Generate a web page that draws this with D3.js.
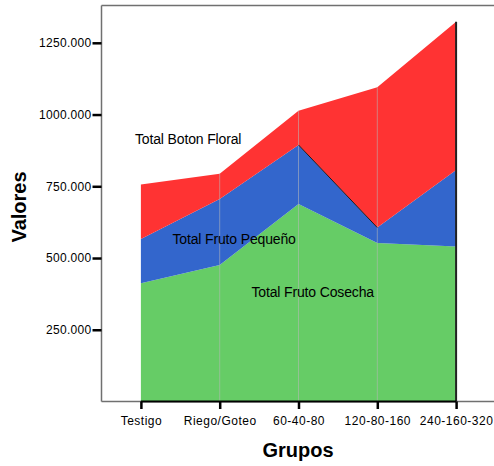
<!DOCTYPE html>
<html>
<head>
<meta charset="utf-8">
<script src="https://cdn.jsdelivr.net/npm/d3@7"></script>
<style>
  html, body { margin: 0; padding: 0; background: #fff; }
  svg { display: block; font-family: "Liberation Sans", Arial, sans-serif; }
</style>
</head>
<body>
<svg id="chart" width="494" height="466"></svg>
<script>
// Groups along the x axis
const grupos = ["Testigo", "Riego/Goteo", "60-40-80", "120-80-160", "240-160-320"];
// Series values (stacked from bottom to top)
const frutoCosecha = [412, 476, 688, 552, 540];
const frutoPequeno = [154, 230, 206, 54, 267];
const botonFloral  = [190, 88, 119, 489, 516];
// Series names, used for the stack keys and in-plot labels
const seriesNames = ["Total Fruto Cosecha", "Total Fruto Pequeño", "Total Boton Floral"];
// Y tick values
const yTicks = [250, 500, 750, 1000, 1250];

const colors = ["#66cc66", "#3366cc", "#ff3333"];

const rows = grupos.map((g, i) => ({
  grupo: g,
  [seriesNames[0]]: frutoCosecha[i],
  [seriesNames[1]]: frutoPequeno[i],
  [seriesNames[2]]: botonFloral[i]
}));

const svg = d3.select("#chart");
const plotLeft = 101.5, plotRight = 495.5, plotTop = 5.5, plotBottom = 401.5;

const x = d3.scalePoint().domain(grupos).range([plotLeft, plotRight]).padding(0.5);
const y = d3.scaleLinear().domain([0, 1380]).range([plotBottom, plotTop]);

const stacked = d3.stack().keys(seriesNames)(rows);

const area = d3.area()
  .x(d => x(d.data.grupo))
  .y0(d => y(d[0]))
  .y1(d => y(d[1]));

// Frame: left axis line, top border, bottom border
svg.append("line").attr("x1", plotLeft).attr("x2", plotLeft).attr("y1", plotTop).attr("y2", plotBottom)
  .attr("stroke", "#707070").attr("stroke-width", 1.5);
svg.append("line").attr("x1", plotLeft).attr("x2", 494).attr("y1", plotTop).attr("y2", plotTop)
  .attr("stroke", "#707070").attr("stroke-width", 1.5);
svg.append("line").attr("x1", plotLeft).attr("x2", 494).attr("y1", plotBottom).attr("y2", plotBottom)
  .attr("stroke", "#707070").attr("stroke-width", 1.5);

// Stacked areas
svg.append("g").selectAll("path")
  .data(stacked)
  .join("path")
  .attr("d", area)
  .attr("fill", (d, i) => colors[i]);

// Thin category lines through the areas
const totals = rows.map(r => seriesNames.reduce((s, k) => s + r[k], 0));
svg.append("g").selectAll("line")
  .data(grupos.slice(1, -1))
  .join("line")
  .attr("x1", d => x(d)).attr("x2", d => x(d))
  .attr("y1", y(0))
  .attr("y2", d => y(totals[grupos.indexOf(d)]))
  .attr("stroke", "rgba(185,185,185,0.55)")
  .attr("stroke-width", 1);

// Dark edge on the boundary between the middle and top series
svg.append("path")
  .datum(stacked[1])
  .attr("d", d3.line()
    .defined((d, i) => i >= 2 && i <= 3)
    .x(d => x(d.data.grupo))
    .y(d => y(d[1])))
  .attr("fill", "none")
  .attr("stroke", "#1a1a1a")
  .attr("stroke-width", 1);

// Right edge of the stack and base line
const last = grupos[grupos.length - 1];
svg.append("line")
  .attr("x1", x(last)).attr("x2", x(last))
  .attr("y1", y(0)).attr("y2", y(totals[totals.length - 1]))
  .attr("stroke", "#222").attr("stroke-width", 2);
svg.append("line")
  .attr("x1", x(grupos[0])).attr("x2", x(last))
  .attr("y1", y(0)).attr("y2", y(0))
  .attr("stroke", "#000").attr("stroke-width", 2);

// Y axis
const yAxis = svg.append("g")
  .attr("transform", `translate(${plotLeft},0)`)
  .call(d3.axisLeft(y).tickValues(yTicks).tickFormat(d3.format(".3f")).tickSize(9).tickPadding(1));
yAxis.select(".domain").remove();
yAxis.selectAll(".tick line").attr("stroke", "#000").attr("stroke-width", 2.5);
yAxis.selectAll(".tick text")
  .attr("font-size", 12)
  .attr("letter-spacing", "0.3px")
  .attr("fill", "#000")
  .attr("font-family", "'Liberation Sans', Arial, sans-serif");

// X axis
const xAxis = svg.append("g")
  .attr("transform", `translate(0,${plotBottom})`)
  .call(d3.axisBottom(x).tickSize(7.5).tickPadding(7));
xAxis.select(".domain").remove();
xAxis.selectAll(".tick line").attr("stroke", "#000").attr("stroke-width", 2.5);
xAxis.selectAll(".tick text")
  .attr("font-size", 12)
  .attr("letter-spacing", "0.5px")
  .attr("fill", "#000")
  .attr("font-family", "'Liberation Sans', Arial, sans-serif");

// Axis titles
svg.append("text")
  .attr("x", 298).attr("y", 457)
  .attr("text-anchor", "middle")
  .attr("font-size", 20).attr("font-weight", "bold")
  .text("Grupos");
svg.append("text")
  .attr("transform", "translate(26,207) rotate(-90)")
  .attr("text-anchor", "middle")
  .attr("font-size", 20).attr("font-weight", "bold")
  .text("Valores");

// Series labels inside the plot
const seriesLabels = [
  { name: seriesNames[2], x: 135, y: 144 },
  { name: seriesNames[1], x: 172.5, y: 244 },
  { name: seriesNames[0], x: 251.5, y: 297 }
];
svg.append("g").selectAll("text")
  .data(seriesLabels)
  .join("text")
  .attr("x", d => d.x).attr("y", d => d.y)
  .attr("font-size", 14)
  .attr("letter-spacing", "-0.15px")
  .attr("fill", "#000")
  .text(d => d.name);
</script>
</body>
</html>
